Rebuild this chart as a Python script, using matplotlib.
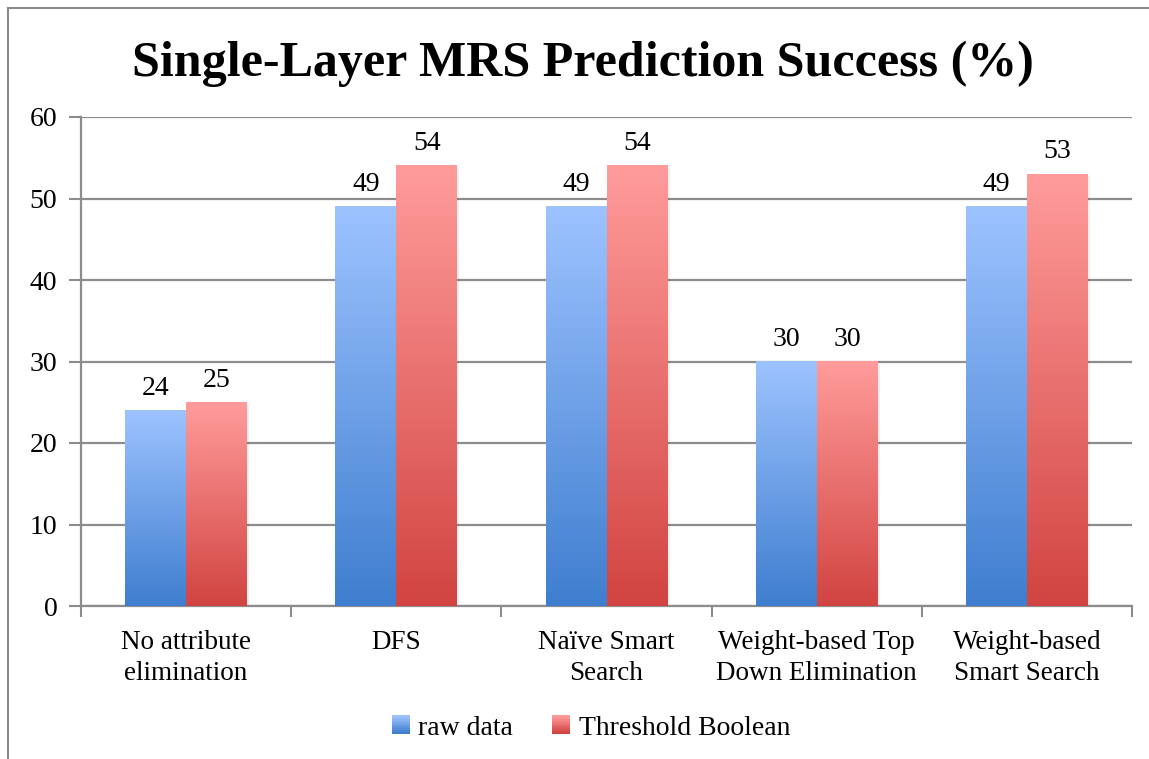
import numpy as np
import matplotlib
matplotlib.use("Agg")
import matplotlib.pyplot as plt
from matplotlib.patches import Rectangle
from matplotlib.legend_handler import HandlerBase
from matplotlib.lines import Line2D

categories = ["No attribute\nelimination", "DFS", "Naïve Smart\nSearch",
              "Weight-based Top\nDown Elimination", "Weight-based\nSmart Search"]
raw_data = [24, 49, 49, 30, 49]
threshold_boolean = [25, 54, 54, 30, 53]
series_names = ["raw data", "Threshold Boolean"]
yticks = [0, 10, 20, 30, 40, 50, 60]

blue_top, blue_bottom = "#9dc3ff", "#3f7ecf"
red_top, red_bottom = "#ff9c9b", "#d14441"

plt.rcParams['font.family'] = ['Liberation Serif', 'DejaVu Serif']


def gradient(top, bottom, n=256):
    t = np.linspace(0, 1, n)[:, None]
    c1 = np.array(matplotlib.colors.to_rgb(top))
    c2 = np.array(matplotlib.colors.to_rgb(bottom))
    return (c1 * (1 - t) + c2 * t)[:, None, :]


def gradient_bars(ax, xs, vals, width, top, bottom):
    img = gradient(top, bottom)
    for x, v in zip(xs, vals):
        # soft shadow on the right side
        ax.add_patch(Rectangle((x - width / 2 + 0.01, 0), width, v - 0.3,
                               color="#000000", alpha=0.06, lw=0, zorder=2))
        ax.imshow(img, extent=[x - width / 2, x + width / 2, 0, v],
                  aspect="auto", zorder=3, interpolation="bilinear")
        ax.annotate(str(v), (x, v), xytext=(0, 7), textcoords="offset points",
                    ha="center", va="bottom", fontsize=20, zorder=4)


class GradientHandler(HandlerBase):
    def __init__(self, top, bottom):
        super().__init__()
        self.top, self.bottom = top, bottom

    def create_artists(self, legend, orig_handle, xdescent, ydescent,
                       width, height, fontsize, trans):
        n = 10
        size = height * 0.95
        x0 = xdescent + (width - size) / 2
        y0 = -ydescent + (height - size) / 2
        cols = gradient(self.top, self.bottom, n)[:, 0, :]
        arts = []
        for i in range(n):
            arts.append(Rectangle((x0, y0 + size - (i + 1) * size / n), size, size / n + 0.3,
                                  facecolor=cols[i], lw=0, transform=trans))
        return arts


fig = plt.figure(figsize=(11.49, 7.59), dpi=100)
W, H = 1149, 759
ax = fig.add_axes([81 / W, (H - 606) / H, (1132 - 81) / W, (606 - 117) / H])

x = np.arange(len(categories))
w = 0.29
gradient_bars(ax, x - w / 2, raw_data, w, blue_top, blue_bottom)
gradient_bars(ax, x + w / 2, threshold_boolean, w, red_top, red_bottom)

ax.set_xlim(-0.5, len(categories) - 0.5)
ax.set_ylim(0, 60)
ax.set_yticks(yticks)
ax.tick_params(axis="y", labelsize=20, length=9, width=1.5, color="#8c8c8c", pad=8)
ax.set_xticks(x)
ax.set_xticklabels(categories, fontsize=19.5, linespacing=1.35)
ax.tick_params(axis="x", which="major", length=0, pad=17)
ax.set_xticks(np.arange(len(categories) + 1) - 0.5, minor=True)
ax.tick_params(axis="x", which="minor", length=8, width=1.5, color="#8c8c8c", direction="out")
ax.grid(axis="y", color="#8c8c8c", lw=1.6, zorder=0)
ax.set_axisbelow(True)
for s in ["top", "right"]:
    ax.spines[s].set_visible(False)
for s in ["left", "bottom"]:
    ax.spines[s].set_color("#8c8c8c")
    ax.spines[s].set_linewidth(1.6)

fig.text(583 / W, 1 - 64 / H, "Single-Layer MRS Prediction Success (%)",
         ha="center", va="center", fontsize=36, fontweight="bold")

h1 = Line2D([], [])
h2 = Line2D([], [], color="r")
ax.legend([h1, h2], series_names, loc="center", bbox_to_anchor=(591 / W, 1 - 728 / H),
          bbox_transform=fig.transFigure, ncol=2, frameon=False, fontsize=20,
          handlelength=0.65, handletextpad=0.3, columnspacing=1.4,
          handler_map={h1: GradientHandler(blue_top, blue_bottom),
                       h2: GradientHandler(red_top, red_bottom)})

# outer chart frame (top and left edges visible)
fig.add_artist(Line2D([8 / W, 1], [1 - 8 / H, 1 - 8 / H], transform=fig.transFigure,
                      color="#8c8c8c", lw=1.5))
fig.add_artist(Line2D([8 / W, 8 / W], [0, 1 - 8 / H], transform=fig.transFigure,
                      color="#8c8c8c", lw=1.5))

fig.savefig("out.png", dpi=100)
